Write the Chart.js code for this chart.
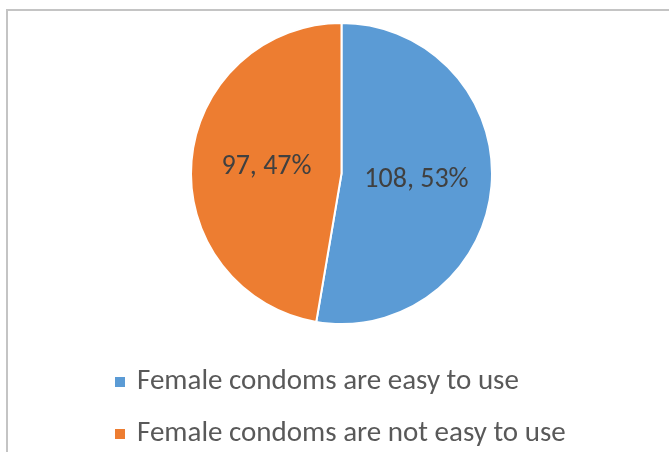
<!DOCTYPE html>
<html>
<head>
<meta charset="utf-8">
<script src="https://cdn.jsdelivr.net/npm/chart.js@4"></script>
<style>
  html, body { margin: 0; padding: 0; background: #fff; }
  #wrap { width: 669px; height: 452px; }
</style>
</head>
<body>
<div id="wrap"><canvas id="myChart" width="669" height="452"></canvas></div>
<script>
// chart data
const categories = ["Female condoms are easy to use", "Female condoms are not easy to use"];
const counts = [108, 97];
const sliceColors = ["#5B9BD5", "#ED7D31"];

const FONT = "Carlito, Calibri, 'Liberation Sans', sans-serif";

// draws the frame, the value labels and the legend list
const extrasPlugin = {
    id: "extras",
    afterDraw(chart) {
        const c = chart.ctx;
        c.save();

        // gray frame (runs off the right and bottom edges)
        c.strokeStyle = "#c4c4c4";
        c.lineWidth = 2;
        c.strokeRect(7, 10, 700, 500);

        // value labels inside the slices
        const total = counts.reduce((a, b) => a + b, 0);
        const arcs = chart.getDatasetMeta(0).data;
        c.font = "28px " + FONT;
        c.fillStyle = "#404040";
        c.textAlign = "center";
        c.textBaseline = "middle";
        arcs.forEach((arc, i) => {
            const p = arc.tooltipPosition();
            const pct = Math.round(counts[i] / total * 100);
            c.fillText(counts[i] + ", " + pct + "%", p.x, p.y);
        });

        // legend, one item per row
        c.font = "29px " + FONT;
        c.textAlign = "left";
        c.textBaseline = "alphabetic";
        categories.forEach((name, i) => {
            const y = 389 + i * 52;
            c.fillStyle = sliceColors[i];
            c.fillRect(115, y - 12, 10, 10);
            c.fillStyle = "#595959";
            c.fillText(name, 137, y);
        });
        c.restore();
    },
};

document.addEventListener("DOMContentLoaded", function () {
    const ctx = document.getElementById("myChart");
    if (!ctx) {
        console.error("Canvas element not found!");
        return;
    }

    new Chart(ctx, {
        type: "pie",
        data: {
            labels: categories,
            datasets: [
                {
                    data: counts,
                    backgroundColor: sliceColors,
                    borderColor: "#ffffff",
                    borderWidth: 2,
                },
            ],
        },
        options: {
            responsive: false,
            animation: false,
            layout: {
                padding: { left: 190, right: 176, top: 22, bottom: 127 },
            },
            plugins: {
                legend: { display: false },
                tooltip: { enabled: false },
            },
        },
        plugins: [extrasPlugin],
    });
});
</script>
</body>
</html>
